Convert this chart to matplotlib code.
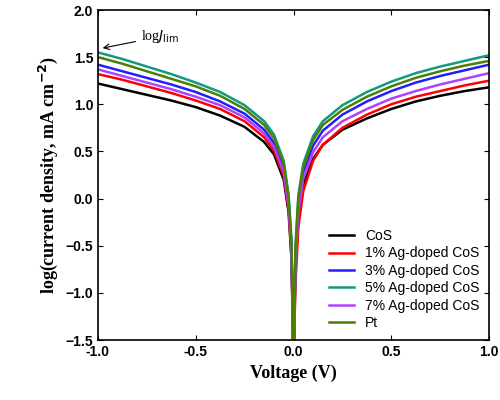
import numpy as np
import matplotlib.pyplot as plt

# Voltage sample points
voltage = [-1.0, -0.875, -0.75, -0.625, -0.5, -0.375, -0.25, -0.15, -0.1, -0.05, -0.025, -0.01, 0.0,
           0.01, 0.025, 0.05, 0.1, 0.15, 0.25, 0.375, 0.5, 0.625, 0.75, 0.875, 1.0]

cos = [1.22, 1.16, 1.10, 1.04, 0.97, 0.88, 0.76, 0.60, 0.47, 0.20, -0.15, -0.65, -1.8,
       -0.75, -0.20, 0.15, 0.42, 0.57, 0.73, 0.85, 0.95, 1.03, 1.09, 1.14, 1.18]
ag1 = [1.32, 1.26, 1.19, 1.12, 1.04, 0.95, 0.82, 0.65, 0.51, 0.24, -0.12, -0.60, -1.8,
       -0.90, -0.30, 0.08, 0.40, 0.57, 0.75, 0.89, 1.00, 1.08, 1.14, 1.20, 1.25]
ag3 = [1.42, 1.35, 1.28, 1.21, 1.13, 1.03, 0.90, 0.73, 0.59, 0.32, -0.04, -0.52, -1.8,
       -0.60, -0.05, 0.28, 0.56, 0.72, 0.89, 1.03, 1.14, 1.23, 1.30, 1.36, 1.42]
ag5 = [1.55, 1.48, 1.40, 1.32, 1.23, 1.13, 0.99, 0.82, 0.68, 0.40, 0.04, -0.45, -1.8,
       -0.50, 0.04, 0.37, 0.66, 0.82, 0.99, 1.13, 1.24, 1.33, 1.40, 1.46, 1.52]
ag7 = [1.37, 1.30, 1.23, 1.16, 1.08, 0.99, 0.86, 0.69, 0.55, 0.28, -0.08, -0.56, -1.8,
       -0.70, -0.14, 0.21, 0.49, 0.65, 0.82, 0.95, 1.06, 1.14, 1.21, 1.27, 1.33]
pt = [1.50, 1.43, 1.35, 1.27, 1.19, 1.09, 0.95, 0.78, 0.64, 0.37, 0.01, -0.48, -1.8,
      -0.55, 0.00, 0.33, 0.62, 0.78, 0.94, 1.08, 1.19, 1.28, 1.35, 1.41, 1.46]

labels = ['CoS', '1% Ag-doped CoS', '3% Ag-doped CoS', '5% Ag-doped CoS', '7% Ag-doped CoS', 'Pt']
series = [cos, ag1, ag3, ag5, ag7, pt]
colors = ['black', '#ff0000', '#2020ff', '#109a80', '#b040ff', '#4f7f00']

fig = plt.figure(figsize=(5, 4), dpi=100)
ax = fig.add_axes([0.196, 0.15, 0.782, 0.825])
for y, lab, c in zip(series, labels, colors):
    ax.plot(voltage, y, color=c, lw=1.8, label=lab)

ax.set_xlim(-1, 1)
ax.set_ylim(-1.5, 2.0)
ax.set_xticks([-1, -0.5, 0, 0.5, 1])
ax.set_yticks(np.arange(-1.5, 2.01, 0.5))
ax.set_xticklabels(['-1.0', '-0.5', '0.0', '0.5', '1.0'])
ax.tick_params(direction='in', top=True, right=True, labelsize=10)
for t in ax.get_xticklabels() + ax.get_yticklabels():
    t.set_fontfamily('Liberation Sans')
    t.set_fontweight('bold')
for s in ax.spines.values():
    s.set_linewidth(1.2)

ax.set_xlabel('Voltage (V)', family='Liberation Serif', fontweight='bold', fontsize=13)
ax.set_ylabel('log(current density, mA cm$^{\\mathbf{-2}}$)', family='Liberation Serif', fontweight='bold', fontsize=13)

ax.annotate(r'log$J_{\rm lim}$', xy=(-0.99, 1.59), xytext=(-0.78, 1.68),
            family='Liberation Serif', fontsize=10,
            arrowprops=dict(arrowstyle='->', color='black', lw=0.8))

leg = ax.legend(loc='lower right', frameon=False, prop={'family': 'Liberation Sans', 'size': 10},
                handlelength=1.8, labelspacing=0.25, borderaxespad=0.3)

fig.savefig('out.png')
